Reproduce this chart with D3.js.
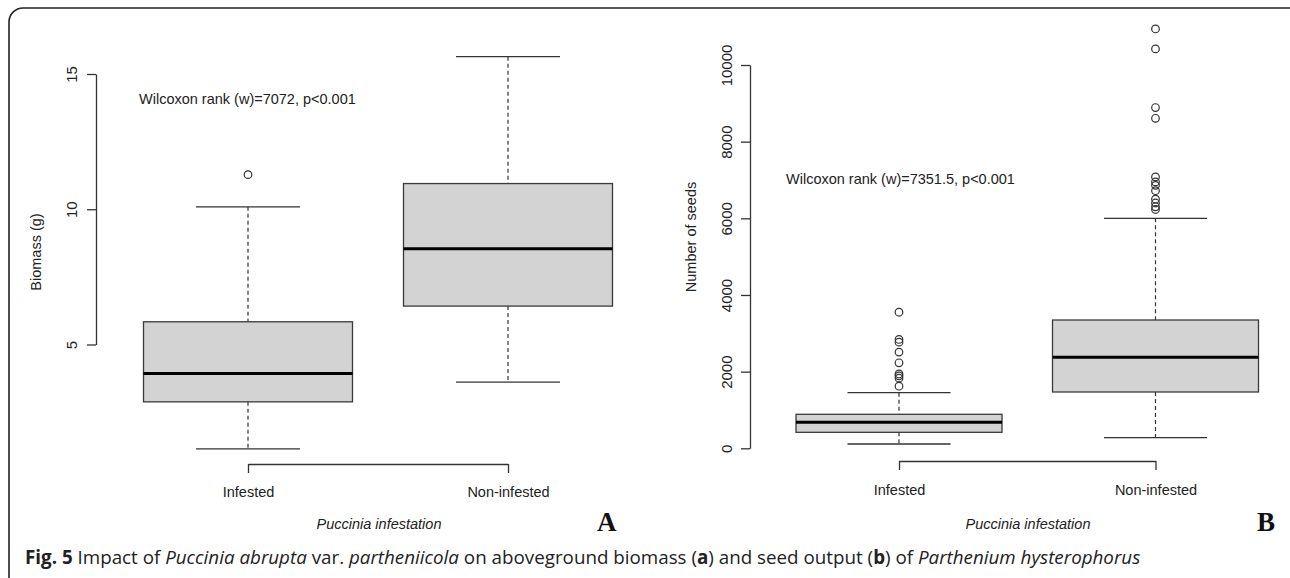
<!DOCTYPE html>
<html>
<head>
<meta charset="utf-8">
<script src="https://cdn.jsdelivr.net/npm/d3@7"></script>
<style>
  body { margin: 0; background: #fff; }
  .axis path, .axis line { stroke: #333; stroke-width: 1.3; }
</style>
</head>
<body>
<script>
//groups on the x axis
var groups = ["Infested", "Non-infested"];

//panel A: aboveground biomass (g), five-number summaries
var biomassLow = [1.14, 3.61];
var biomassQ1 = [2.88, 6.42];
var biomassMedian = [3.93, 8.54];
var biomassQ3 = [5.84, 10.95];
var biomassHigh = [10.09, 15.64];
var biomassOutliers = [[11.28], []];
var biomassTicks = [5, 10, 15];

//panel B: number of seeds
var seedLow = [112, 277];
var seedQ1 = [417, 1469];
var seedMedian = [678, 2374];
var seedQ3 = [887, 3347];
var seedHigh = [1451, 6000];
var seedOutliers = [
    [3550, 2840, 2770, 2510, 2230, 1940, 1890, 1830, 1620],
    [10940, 10420, 8890, 8610, 7080, 6950, 6860, 6720, 6500, 6400, 6300, 6230]
];
var seedTicks = [0, 2000, 4000, 6000, 8000, 10000];

var w = 1290, h = 578;
var chartFont = "'Liberation Sans', Arial, sans-serif";

var svg = d3.select("body").append("svg")
    .attr("width", w)
    .attr("height", h);

//rounded figure frame, open on the right and bottom
svg.append("rect")
    .attr("x", 9).attr("y", 8)
    .attr("width", 1310).attr("height", 600)
    .attr("rx", 14)
    .style("fill", "none")
    .style("stroke", "#222")
    .style("stroke-width", 1.6);

//draws one boxplot panel
function drawPanel(p) {
    var g = svg.append("g");

    var stats = groups.map(function(name, i) {
        return {
            name: name,
            lo: p.low[i], q1: p.q1[i], med: p.median[i],
            q3: p.q3[i], hi: p.high[i], out: p.outliers[i]
        };
    });

    var boxes = g.selectAll(".box")
        .data(stats)
        .enter()
        .append("g")
        .attr("class", "box");

    //dashed whiskers
    boxes.append("line")
        .attr("x1", function(d){ return p.x(d.name); })
        .attr("x2", function(d){ return p.x(d.name); })
        .attr("y1", function(d){ return p.y(d.hi); })
        .attr("y2", function(d){ return p.y(d.q3); })
        .style("stroke", "#333").style("stroke-width", 1.2)
        .style("stroke-dasharray", "4,3");
    boxes.append("line")
        .attr("x1", function(d){ return p.x(d.name); })
        .attr("x2", function(d){ return p.x(d.name); })
        .attr("y1", function(d){ return p.y(d.q1); })
        .attr("y2", function(d){ return p.y(d.lo); })
        .style("stroke", "#333").style("stroke-width", 1.2)
        .style("stroke-dasharray", "4,3");

    //whisker caps
    ["hi", "lo"].forEach(function(k) {
        boxes.append("line")
            .attr("x1", function(d){ return p.x(d.name) - p.cap; })
            .attr("x2", function(d){ return p.x(d.name) + p.cap; })
            .attr("y1", function(d){ return p.y(d[k]); })
            .attr("y2", function(d){ return p.y(d[k]); })
            .style("stroke", "#333").style("stroke-width", 1.3);
    });

    //the box
    boxes.append("rect")
        .attr("x", function(d){ return p.x(d.name) - p.half; })
        .attr("width", p.half * 2)
        .attr("y", function(d){ return p.y(d.q3); })
        .attr("height", function(d){ return p.y(d.q1) - p.y(d.q3); })
        .style("fill", "#d3d3d3")
        .style("stroke", "#3a3a3a")
        .style("stroke-width", 1.3);

    //median
    boxes.append("line")
        .attr("x1", function(d){ return p.x(d.name) - p.half; })
        .attr("x2", function(d){ return p.x(d.name) + p.half; })
        .attr("y1", function(d){ return p.y(d.med); })
        .attr("y2", function(d){ return p.y(d.med); })
        .style("stroke", "#000").style("stroke-width", 3);

    //outliers
    boxes.selectAll(".out")
        .data(function(d){ return d.out.map(function(v){ return {name: d.name, v: v}; }); })
        .enter()
        .append("circle")
        .attr("class", "out")
        .attr("cx", function(d){ return p.x(d.name); })
        .attr("cy", function(d){ return p.y(d.v); })
        .attr("r", 3.8)
        .style("fill", "none")
        .style("stroke", "#333")
        .style("stroke-width", 1.2);

    //y axis, labels parallel to the axis as in base R
    var yAxis = g.append("g")
        .attr("class", "axis")
        .attr("transform", "translate(" + p.axisX + ",0)")
        .call(d3.axisLeft(p.y).tickValues(p.ticks).tickFormat(d3.format("d"))
            .tickSize(9).tickSizeOuter(0));
    yAxis.selectAll("text")
        .attr("x", 0)
        .attr("y", -p.labelGap)
        .attr("dy", null)
        .attr("transform", "rotate(-90)")
        .attr("text-anchor", "middle")
        .style("font-size", "15px")
        .style("font-family", chartFont)
        .style("fill", "#222");

    //x axis bracket
    var xAxis = g.append("g")
        .attr("class", "axis")
        .attr("transform", "translate(0," + p.axisY + ")")
        .call(d3.axisBottom(p.x).tickSize(9).tickSizeOuter(0));
    xAxis.selectAll("text")
        .attr("dy", null)
        .attr("y", p.xLabelY - p.axisY)
        .style("font-size", "14.5px")
        .style("font-family", chartFont)
        .style("fill", "#222");

    //y title
    g.append("text")
        .attr("transform", "translate(" + p.titleX + "," + p.titleY + ") rotate(-90)")
        .attr("text-anchor", "middle")
        .style("font-family", chartFont)
        .style("font-size", "14.5px")
        .style("fill", "#222")
        .text(p.yTitle);

    //x title
    g.append("text")
        .attr("x", p.xTitleX)
        .attr("y", 529)
        .attr("text-anchor", "middle")
        .style("font-family", chartFont)
        .style("font-size", "14.5px")
        .style("font-style", "italic")
        .style("fill", "#222")
        .text("Puccinia infestation");

    //test statistic
    g.append("text")
        .attr("x", p.noteX)
        .attr("y", p.noteY)
        .style("font-family", chartFont)
        .style("font-size", "14.5px")
        .style("fill", "#222")
        .text(p.note);

    //panel letter
    g.append("text")
        .attr("x", p.letterX)
        .attr("y", 531)
        .style("font-family", "'Liberation Serif', 'Times New Roman', serif")
        .style("font-weight", "bold")
        .style("font-size", "27px")
        .style("fill", "#111")
        .text(p.letter);
}

drawPanel({
    low: biomassLow, q1: biomassQ1, median: biomassMedian, q3: biomassQ3,
    high: biomassHigh, outliers: biomassOutliers, ticks: biomassTicks,
    x: d3.scalePoint().domain(groups).range([248, 508]),
    y: d3.scaleLinear().domain([5, 15]).range([344.5, 74]),
    half: 104.5, cap: 52,
    axisX: 96, axisY: 464, labelGap: 19, xLabelY: 497,
    titleX: 41, titleY: 252, yTitle: "Biomass (g)",
    xTitleX: 379,
    noteX: 139, noteY: 104, note: "Wilcoxon rank (w)=7072, p<0.001",
    letterX: 597, letter: "A"
});

drawPanel({
    low: seedLow, q1: seedQ1, median: seedMedian, q3: seedQ3,
    high: seedHigh, outliers: seedOutliers, ticks: seedTicks,
    x: d3.scalePoint().domain(groups).range([899, 1155.5]),
    y: d3.scaleLinear().domain([0, 10000]).range([448.3, 65]),
    half: 103, cap: 51.5,
    axisX: 750, axisY: 461, labelGap: 18, xLabelY: 495,
    titleX: 696, titleY: 237, yTitle: "Number of seeds",
    xTitleX: 1028,
    noteX: 786, noteY: 184, note: "Wilcoxon rank (w)=7351.5, p<0.001",
    letterX: 1257, letter: "B"
});

//figure caption
var cap = svg.append("text")
    .attr("x", 25)
    .attr("y", 564)
    .style("font-family", "'Open Sans', 'Noto Sans', sans-serif")
    .style("font-size", "18.8px")
    .style("fill", "#222");
var parts = [
    ["Fig. 5", "bold", "normal"],
    [" Impact of ", "normal", "normal"],
    ["Puccinia abrupta", "normal", "italic"],
    [" var. ", "normal", "normal"],
    ["partheniicola", "normal", "italic"],
    [" on aboveground biomass (", "normal", "normal"],
    ["a", "bold", "normal"],
    [") and seed output (", "normal", "normal"],
    ["b", "bold", "normal"],
    [") of ", "normal", "normal"],
    ["Parthenium hysterophorus", "normal", "italic"]
];
cap.selectAll("tspan")
    .data(parts)
    .enter()
    .append("tspan")
    .style("font-weight", function(d){ return d[1]; })
    .style("font-style", function(d){ return d[2]; })
    .text(function(d){ return d[0]; });
</script>
</body>
</html>
